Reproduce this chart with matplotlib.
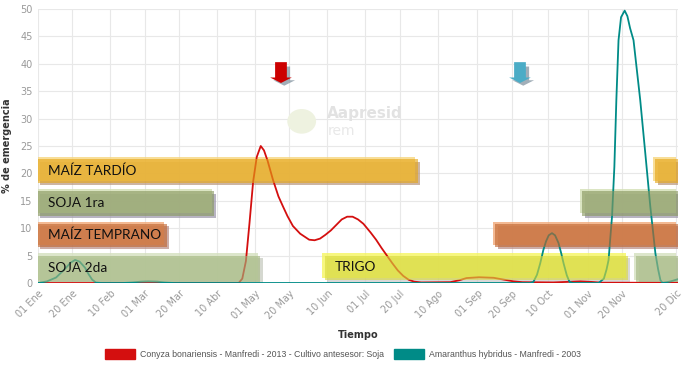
import matplotlib.pyplot as plt
from matplotlib.patches import Rectangle, FancyArrow, Patch, Ellipse

# day-of-year values for the x axis
tick_days = [0, 19, 40, 59, 78, 99, 120, 139, 160, 181, 200, 221, 243, 262, 282, 304, 323, 353]
tick_labels = ['01 Ene', '20 Ene', '10 Feb', '01 Mar', '20 Mar', '10 Abr', '01 May', '20 May',
               '10 Jun', '01 Jul', '20 Jul', '10 Ago', '01 Sep', '20 Sep', '10 Oct', '01 Nov',
               '20 Nov', '20 Dic']

# Conyza bonariensis - Manfredi - 2013
conyza_days = [0, 111, 113, 115, 117, 119, 121, 123.2, 125, 127, 130, 133, 135.6, 138, 141, 145,
               150, 153, 156, 159, 162, 165, 168, 171, 174, 177, 180, 184, 187, 190, 193, 196,
               199, 202, 205, 208, 212, 228, 233, 237, 244, 252, 258, 263, 268, 285, 300, 306,
               312, 354]
conyza_vals = [0, 0, 0.8, 4, 11, 18.5, 23, 25, 24.2, 22.3, 18.8, 15.8, 13.9, 12.2, 10.4, 9.0,
               7.9, 7.8, 8.1, 8.8, 9.6, 10.6, 11.6, 12.1, 12.1, 11.6, 10.8, 9.2, 7.9, 6.4, 5.0,
               3.6, 2.3, 1.3, 0.6, 0.25, 0.1, 0.15, 0.5, 0.9, 1.05, 0.95, 0.6, 0.3, 0.15, 0.1,
               0.3, 0.2, 0.05, 0.05]

# Amaranthus hybridus - Manfredi - 2003
amaranthus_days = [0, 5, 10, 15, 18, 20.5, 23, 26, 28, 30, 32, 35, 47, 52, 57, 61, 66, 70, 75,
                   272, 274, 276, 277.8, 279.5, 281, 282.5, 284.3, 286, 287.9, 289.5, 290.7,
                   292.5, 294, 296, 310, 311, 313, 314.5, 315.6, 316.5, 317.5, 318.8, 319.9,
                   321.1, 322.5, 324.5, 326, 327.5, 329.4, 333.1, 335.9, 338.7, 341.5, 343,
                   344.3, 345.5, 350, 354]
amaranthus_vals = [0, 0.3, 1.0, 2.6, 3.7, 4.2, 3.9, 2.8, 1.6, 0.6, 0.1, 0, 0, 0.1, 0.25, 0.3,
                   0.25, 0.1, 0, 0, 0.2, 1.5, 3.6, 6, 7.6, 8.7, 9.1, 8.7, 7.3, 5.3, 3.6, 1.4,
                   0.2, 0, 0, 0.25, 0.8, 2.5, 4.2, 8, 12.1, 21.2, 33.4, 44.3, 48.5, 49.7, 48.7,
                   46.5, 44.3, 33.4, 23.7, 13.9, 5.4, 2.5, 0.5, 0, 0.3, 0.7]

# crop windows: label, start day, end day, bottom %, top %
crop_names = ['MAÍZ TARDÍO', 'MAÍZ TARDÍO', 'SOJA 1ra', 'SOJA 1ra', 'MAÍZ TEMPRANO',
              'MAÍZ TEMPRANO', 'SOJA 2da', 'SOJA 2da', 'TRIGO']
crop_start = [0, 341.5, 0, 301, 0, 253, 0, 331, 158.5]
crop_end = [210, 354, 97.4, 354, 71.2, 354, 123, 354, 326.3]
crop_low = [18.3, 18.3, 12.3, 12.3, 6.6, 6.6, 0.1, 0.1, 0.5]
crop_high = [22.6, 22.6, 16.7, 16.7, 10.8, 10.8, 5.0, 5.0, 5.0]
crop_labelled = [True, False, True, False, True, False, True, False, True]

crop_colors = {'MAÍZ TARDÍO': ('#e5a516', '#f7d67e', '#b7967e'),
               'SOJA 1ra': ('#87975e', '#d3dfb5', '#9a94a8'),
               'MAÍZ TEMPRANO': ('#c06530', '#f0a878', '#b88a84'),
               'SOJA 2da': ('#a3b77f', '#d4e0be', '#c4c8bc'),
               'TRIGO': ('#d8d93e', '#f5f560', '#c8c8c8')}

# arrows: day, colour
arrow_days = [134.4, 266.6]
arrow_colors = ['#cc0000', '#4bacc6']

red = '#d40f0f'
teal = '#008b87'

fig = plt.figure(figsize=(6.86, 3.65), dpi=100)
ax = fig.add_axes([38 / 686, 1 - 283 / 365, 640 / 686, 274 / 365])

ax.plot(conyza_days, conyza_vals, color=red, lw=1.3, zorder=4.5)
ax.plot(amaranthus_days, amaranthus_vals, color=teal, lw=1.3, zorder=4.5)

for name, x0, x1, y0, y1, lab in zip(crop_names, crop_start, crop_end, crop_low, crop_high,
                                     crop_labelled):
    main, light, shadow = crop_colors[name]
    w = x1 - x0
    h = y1 - y0
    ax.add_patch(Rectangle((x0 + 1.3, y0 - 0.45), w, h, color=shadow, alpha=0.7, lw=0, zorder=4))
    ax.add_patch(Rectangle((x0 - 1.3, y0 + 0.4), w, h, color=light, alpha=0.8, lw=0, zorder=4))
    ax.add_patch(Rectangle((x0, y0), w, h, color=main, alpha=0.62, lw=0, zorder=5))
    if lab:
        ax.text(x0 + 5.5, (y0 + y1) / 2 + 0.1, name, fontsize=9.8, family='Lato',
                va='center', ha='left', color='#111111', zorder=6)

for d, c in zip(arrow_days, arrow_colors):
    ax.add_patch(FancyArrow(d + 1.8, 39.5, 0, -3.5, width=6.5, head_width=12,
                            head_length=1.0, length_includes_head=True,
                            color='#8a9aa6', alpha=0.8, lw=0, zorder=4))
    ax.add_patch(FancyArrow(d, 40.3, 0, -3.8, width=6.5, head_width=12,
                            head_length=1.0, length_includes_head=True,
                            color=c, lw=0, zorder=5))

# watermark
ax.add_patch(Ellipse((0.412, 0.59), 0.045, 0.09, transform=ax.transAxes, color='#eef2e0',
                     lw=0, zorder=1))
ax.text(0.452, 0.62, 'Aapresid', transform=ax.transAxes, fontsize=11, color='#e2e2e2',
        fontweight='bold', va='center', zorder=1)
ax.text(0.452, 0.555, 'rem', transform=ax.transAxes, fontsize=10, color='#e8e8e8',
        va='center', zorder=1)

ax.set_xlim(0, 354)
ax.set_ylim(0, 50)
ax.set_yticks(range(0, 51, 5))
ax.set_xticks(tick_days)
ax.set_xticklabels(tick_labels, rotation=45, ha='right', rotation_mode='anchor')
ax.tick_params(axis='both', labelsize=7, colors='#999999', length=0, pad=4)
ax.grid(True, color='#e8e8e8', lw=0.8, zorder=0)
ax.set_axisbelow(True)
for s in ax.spines.values():
    s.set_visible(False)

ax.set_ylabel('% de emergencia', fontsize=7, fontweight='bold', color='#333333', labelpad=6)
fig.text(358 / 686, 1 - 335 / 365, 'Tiempo', fontsize=7, fontweight='bold', color='#333333',
         ha='center', va='center')

handles = [Patch(color=red), Patch(color=teal)]
fig.legend(handles, ['Conyza bonariensis - Manfredi - 2013 - Cultivo antesesor: Soja',
                     'Amaranthus hybridus - Manfredi - 2003'],
           loc='center', bbox_to_anchor=(0.5, 1 - 354 / 365), ncol=2, frameon=False,
           prop={'family': 'Liberation Sans', 'size': 6.3}, labelcolor='#555555',
           handlelength=3.4, handleheight=1.3, columnspacing=1.2, handletextpad=0.6)

fig.savefig('out.png', dpi=100)
